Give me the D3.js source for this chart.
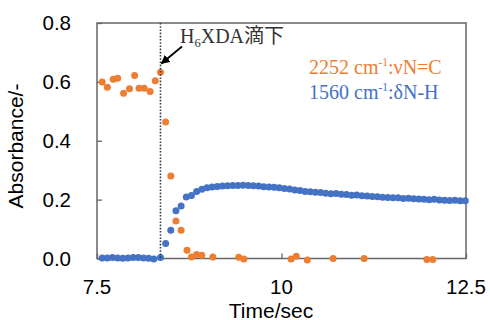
<!DOCTYPE html>
<html><head><meta charset="utf-8">
<script src="https://cdn.jsdelivr.net/npm/d3@7"></script>
<style>body{margin:0;background:#fff}svg{display:block}</style>
</head><body>
<svg id="c" width="490" height="320"></svg>
<script>
const xTicks = [7.5, 10, 12.5];
const yTicks = [0.0, 0.2, 0.4, 0.6, 0.8];
const xTickLabels = ["7.5", "10", "12.5"];
const yTickLabels = ["0.0", "0.2", "0.4", "0.6", "0.8"];
const injectionTime = 8.36;

const orangeTime = [7.57,7.64,7.72,7.78,7.86,7.94,8.01,8.07,8.14,8.22,8.29,8.36,8.43,8.50,8.57,8.64,8.72,8.78,8.85,8.92,9.07,9.42,9.49,10.13,10.20,10.35,10.70,11.12,11.97,12.05];
const orangeValue = [0.600,0.582,0.609,0.612,0.561,0.577,0.622,0.578,0.578,0.567,0.604,0.633,0.464,0.280,0.127,0.096,0.028,0.005,0.014,0.011,0.005,0.004,-0.002,-0.002,0.008,-0.005,0.000,0.000,-0.003,-0.003];

const blueTime = [7.57,7.64,7.71,7.78,7.85,7.92,7.99,8.06,8.13,8.20,8.27,8.36,8.43,8.50,8.57,8.64,8.71,8.78,8.85,8.92,8.99,9.06,9.13,9.20,9.27,9.34,9.41,9.48,9.55,9.62,9.69,9.76,9.83,9.90,9.97,10.04,10.11,10.18,10.25,10.32,10.39,10.46,10.53,10.60,10.67,10.74,10.81,10.88,10.95,11.02,11.09,11.16,11.23,11.30,11.37,11.44,11.51,11.58,11.65,11.72,11.79,11.86,11.93,12.00,12.07,12.14,12.21,12.28,12.35,12.42,12.49];
const blueValue = [0.002,0.002,0.003,0.002,0.001,0.002,0.003,0.003,0.002,0.001,-0.002,0.003,0.051,0.096,0.162,0.178,0.209,0.214,0.228,0.235,0.240,0.243,0.245,0.246,0.247,0.248,0.248,0.249,0.248,0.247,0.246,0.244,0.243,0.242,0.240,0.238,0.236,0.233,0.231,0.228,0.227,0.225,0.224,0.222,0.220,0.221,0.218,0.217,0.215,0.216,0.213,0.212,0.211,0.210,0.208,0.207,0.206,0.206,0.204,0.205,0.203,0.202,0.201,0.200,0.201,0.199,0.198,0.197,0.198,0.196,0.196];

const seriesLabels = [
  {main:"2252 cm", sup:"-1", tail:":νN=C", color:"#ED7D31"},
  {main:"1560 cm", sup:"-1", tail:":δN-H", color:"#4472C4"}
];

const svg = d3.select("#c");
const L = 97, R = 466, T = 23, B = 258.5;
const x = d3.scaleLinear().domain([7.5, 12.5]).range([L, R]);
const y = d3.scaleLinear().domain([0, 0.8]).range([B, T]);
const axisColor = "#666";
const sans = "'Liberation Sans', Arial, sans-serif";
const serif = "'Liberation Serif', 'Times New Roman', 'Noto Sans CJK JP', serif";

svg.append("rect").attr("x", L).attr("y", T).attr("width", R - L).attr("height", B - T)
  .attr("fill", "none").attr("stroke", axisColor).attr("stroke-width", 1.5);

const yAxis = d3.axisRight(y).tickValues(yTicks).tickSize(5).tickFormat("");
svg.append("g").attr("transform", `translate(${L},0)`).call(yAxis)
  .call(g => g.select(".domain").remove())
  .call(g => g.selectAll("line").attr("stroke", axisColor).attr("stroke-width", 1.3));
const xAxis = d3.axisTop(x).tickValues(xTicks).tickSize(5).tickFormat("");
svg.append("g").attr("transform", `translate(0,${B})`).call(xAxis)
  .call(g => g.select(".domain").remove())
  .call(g => g.selectAll("line").attr("stroke", axisColor).attr("stroke-width", 1.3));

svg.append("g").selectAll("text").data(yTicks).join("text")
  .attr("x", L - 26).attr("y", d => y(d)).attr("dy", "0.36em")
  .attr("text-anchor", "end").attr("font-family", sans).attr("font-size", 20.5)
  .attr("fill", "#000").text((d, i) => yTickLabels[i]);
svg.append("g").selectAll("text").data(xTicks).join("text")
  .attr("x", d => x(d)).attr("y", 293.5)
  .attr("text-anchor", "middle").attr("font-family", sans).attr("font-size", 20.5)
  .attr("fill", "#000").text((d, i) => xTickLabels[i]);

svg.append("text").attr("x", 271).attr("y", 317.5).attr("text-anchor", "middle")
  .attr("font-family", sans).attr("font-size", 21).text("Time/sec");
svg.append("text").attr("transform", "translate(23,146) rotate(-90)").attr("text-anchor", "middle")
  .attr("font-family", sans).attr("font-size", 21).text("Absorbance/-");

const r = 3.5;
svg.append("g").selectAll("circle").data(orangeTime.map((t, i) => [t, orangeValue[i]])).join("circle")
  .attr("cx", d => x(d[0])).attr("cy", d => y(d[1])).attr("r", r).attr("fill", "#ED7D31");
svg.append("g").selectAll("circle").data(blueTime.map((t, i) => [t, blueValue[i]])).join("circle")
  .attr("cx", d => x(d[0])).attr("cy", d => y(d[1])).attr("r", r).attr("fill", "#4472C4");

svg.append("line").attr("x1", x(injectionTime)).attr("x2", x(injectionTime)).attr("y1", T).attr("y2", B)
  .attr("stroke", "#2F3D55").attr("stroke-width", 1.6).attr("stroke-dasharray", "1.6,1.6");

svg.append("defs").append("marker").attr("id", "ah").attr("viewBox", "0 0 10 10")
  .attr("refX", 9).attr("refY", 5).attr("markerWidth", 5).attr("markerHeight", 5)
  .attr("orient", "auto").attr("markerUnits", "strokeWidth")
  .append("path").attr("d", "M0,0L10,5L0,10z").attr("fill", "#000");
svg.append("line").attr("x1", 182).attr("y1", 46.5).attr("x2", x(injectionTime) + 1).attr("y2", 63.5)
  .attr("stroke", "#000").attr("stroke-width", 1.8).attr("marker-end", "url(#ah)");

const ann = svg.append("text").attr("x", 180).attr("y", 43).attr("font-family", serif)
  .attr("font-size", 20).attr("fill", "#333");
ann.append("tspan").text("H");
ann.append("tspan").attr("font-size", 12.5).attr("dy", 4).text("6");
ann.append("tspan").attr("dy", -4).text("XDA滴下");

seriesLabels.forEach((s, i) => {
  const t = svg.append("text").attr("x", 309).attr("y", 74 + i * 24.5)
    .attr("font-family", serif).attr("font-size", 20).attr("fill", s.color);
  t.append("tspan").text(s.main);
  t.append("tspan").attr("font-size", 11.5).attr("dy", -8).text(s.sup);
  t.append("tspan").attr("dy", 8).text(s.tail);
});
</script>
</body></html>
